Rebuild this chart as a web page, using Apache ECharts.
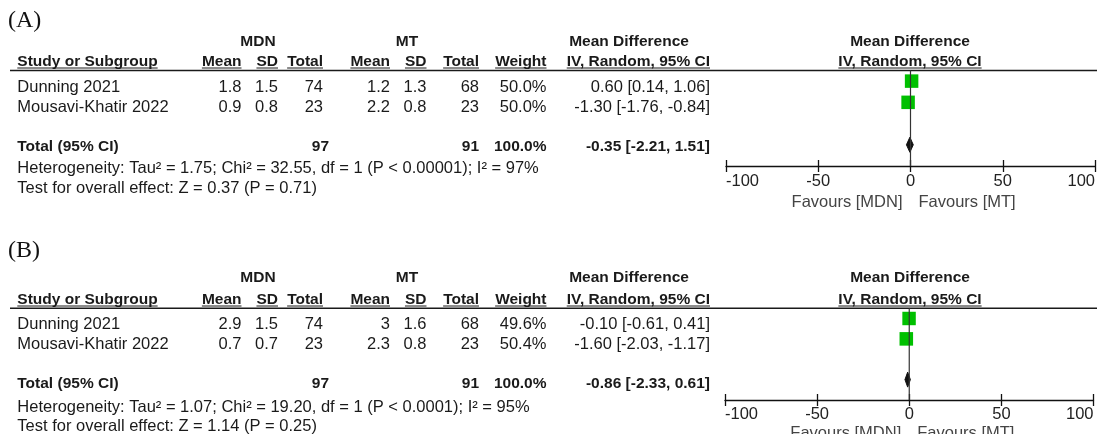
<!DOCTYPE html>
<html>
<head>
<meta charset="utf-8">
<script src="https://cdn.jsdelivr.net/npm/echarts@6/dist/echarts.min.js"></script>
<style>
  html, body { margin: 0; padding: 0; background: #fff; }
  #chart { width: 1097px; height: 434px; }
</style>
</head>
<body>
<div id="chart"></div>
<script>
// ---- Study data ----
const studies = ['Dunning 2021', 'Mousavi-Khatir 2022'];

// Panel A
const mdnMeanA = [1.8, 0.9];
const mdnSdA = [1.5, 0.8];
const mdnNA = [74, 23];
const mtMeanA = [1.2, 2.2];
const mtSdA = [1.3, 0.8];
const mtNA = [68, 23];
const weightA = [50.0, 50.0];
const mdA = [0.60, -1.30];
const loA = [0.14, -1.76];
const hiA = [1.06, -0.84];
const pooledA = [-0.35, -2.21, 1.51];
const totalNA = [97, 91];
const hetA = 'Heterogeneity: Tau\u00b2 = 1.75; Chi\u00b2 = 32.55, df = 1 (P < 0.00001); I\u00b2 = 97%';
const testA = 'Test for overall effect: Z = 0.37 (P = 0.71)';

// Panel B
const mdnMeanB = [2.9, 0.7];
const mdnSdB = [1.5, 0.7];
const mdnNB = [74, 23];
const mtMeanB = [3, 2.3];
const mtSdB = [1.6, 0.8];
const mtNB = [68, 23];
const weightB = [49.6, 50.4];
const mdB = [-0.10, -1.60];
const loB = [-0.61, -2.03];
const hiB = [0.41, -1.17];
const pooledB = [-0.86, -2.33, 0.61];
const totalNB = [97, 91];
const hetB = 'Heterogeneity: Tau\u00b2 = 1.07; Chi\u00b2 = 19.20, df = 1 (P < 0.0001); I\u00b2 = 95%';
const testB = 'Test for overall effect: Z = 1.14 (P = 0.25)';

// Axis ticks
const xTicks = [-100, -50, 0, 50, 100];
const groupLabels = ['MDN', 'MT'];
const headLabels = ['Study or Subgroup', 'Mean', 'SD', 'Total', 'Mean', 'SD', 'Total', 'Weight', 'IV, Random, 95% CI'];
const favourLabels = ['Favours [MDN]', 'Favours [MT]'];

const panels = [
  { tag: '(A)', mdnMean: mdnMeanA, mdnSd: mdnSdA, mdnN: mdnNA, mtMean: mtMeanA, mtSd: mtSdA, mtN: mtNA,
    weight: weightA, md: mdA, lo: loA, hi: hiA, pooled: pooledA, totalN: totalNA, het: hetA, test: testA,
    layout: { tagY: 21, groupY: 41.5, headY: 62, ruleY: 70.5, rowY: [87, 107.5], totalY: 147, hetY: 168.5, testY: 188.5,
              axisY: 166, axisL: 726, axisR: 1095, labelGap: 7, favY: 202 } },
  { tag: '(B)', mdnMean: mdnMeanB, mdnSd: mdnSdB, mdnN: mdnNB, mtMean: mtMeanB, mtSd: mtSdB, mtN: mtNB,
    weight: weightB, md: mdB, lo: loB, hi: hiB, pooled: pooledB, totalN: totalNB, het: hetB, test: testB,
    layout: { tagY: 251, groupY: 278, headY: 300, ruleY: 308.3, rowY: [324, 344], totalY: 384, hetY: 407, testY: 426.5,
              axisY: 400, axisL: 725, axisR: 1093.5, labelGap: 6, favY: 433 } }
];

const W = 1097;
const FONT = '"Liberation Sans", Arial, sans-serif';
const INK = '#1a1a1a';
const REG = '16.5px ' + FONT;
const BOLD = 'bold 15.5px ' + FONT;

// Column anchors of the table (right edges of right-aligned columns)
const COL = { study: 17.3, mdnMean: 241.5, mdnSd: 278, mdnN: 323, mdnTot: 329, mtMean: 390, mtSd: 426.5, mtN: 479,
              weight: 546.5, ci: 710, groupMDN: 258, groupMT: 407, mdHead: 629, plotHead: 910 };
const HEAD_X = [COL.study, COL.mdnMean, COL.mdnSd, COL.mdnN, COL.mtMean, COL.mtSd, COL.mtN, COL.weight, COL.ci];

const measureCtx = document.createElement('canvas').getContext('2d');
function textWidth(str, font) { measureCtx.font = font; return measureCtx.measureText(str).width; }

function txt(str, x, y, font, align, color) {
  return { type: 'text', x: x, y: y, silent: true,
    style: { text: str, font: font, fill: color || INK, align: align || 'left', verticalAlign: 'middle' } };
}
function hline(x1, x2, y, w, color) {
  return { type: 'line', silent: true, shape: { x1: x1, y1: y, x2: x2, y2: y },
    style: { stroke: color || INK, lineWidth: w } };
}
function ciText(m, l, h) { return m.toFixed(2) + ' [' + l.toFixed(2) + ', ' + h.toFixed(2) + ']'; }

// ---- Chart: one grid per panel; rows on a value y axis (row 0,1 = studies, row 3 = pooled) ----
const grids = [], xAxes = [], yAxes = [], series = [];
panels.forEach(function (p, gi) {
  const L = p.layout;
  grids.push({ left: L.axisL, width: L.axisR - L.axisL, top: L.ruleY, height: L.axisY - L.ruleY, outerBoundsMode: 'none', containLabel: false });
  const base = { type: 'value', gridIndex: gi, min: xTicks[0], max: xTicks[xTicks.length - 1], interval: 50,
    position: 'bottom', splitLine: { show: false } };
  xAxes.push(Object.assign({}, base, {
    axisLine: { show: true, onZero: false, lineStyle: { color: '#111', width: 1.3 } },
    axisTick: { show: true, length: 6, lineStyle: { color: '#111', width: 1.3 } },
    axisLabel: { show: true, margin: L.labelGap, fontFamily: FONT, fontSize: 16.5, color: '#222',
      alignMinLabel: 'left', alignMaxLabel: 'right' }
  }));
  xAxes.push(Object.assign({}, base, {
    axisLine: { show: false, onZero: false },
    axisTick: { show: true, inside: true, length: 6, lineStyle: { color: '#111', width: 1.3 } },
    axisLabel: { show: false }
  }));
  yAxes.push({ type: 'value', gridIndex: gi, min: -0.5, max: 4, inverse: true, show: false });

  const studyData = p.md.map(function (m, i) { return [m, i, p.lo[i], p.hi[i], p.weight[i]]; });
  series.push({
    type: 'custom', xAxisIndex: gi * 2, yAxisIndex: gi, z: 2,
    data: studyData,
    renderItem: function (params, api) {
      const c = api.coord([api.value(0), api.value(1)]);
      const l = api.coord([api.value(2), api.value(1)]);
      const h = api.coord([api.value(3), api.value(1)]);
      const s = 13.5 * Math.sqrt(api.value(4) / 50);
      return { type: 'group', children: [
        { type: 'line', shape: { x1: l[0], y1: c[1], x2: h[0], y2: c[1] }, style: { stroke: '#000', lineWidth: 1 } },
        { type: 'rect', shape: { x: c[0] - s / 2, y: c[1] - s / 2, width: s, height: s }, style: { fill: '#00c000' } }
      ] };
    }
  });
  series.push({
    type: 'custom', xAxisIndex: gi * 2, yAxisIndex: gi, z: 2,
    data: [[p.pooled[0], 3, p.pooled[1], p.pooled[2]]],
    renderItem: function (params, api) {
      const c = api.coord([api.value(0), api.value(1)]);
      const l = api.coord([api.value(2), api.value(1)]);
      const h = api.coord([api.value(3), api.value(1)]);
      const hh = 7.5;
      return { type: 'polygon', shape: { points: [[l[0], c[1]], [c[0], c[1] - hh], [h[0], c[1]], [c[0], c[1] + hh]] },
        style: { fill: '#111', stroke: '#111', lineWidth: 1 } };
    }
  });
  // Line of no effect
  series.push({
    type: 'line', xAxisIndex: gi * 2, yAxisIndex: gi, z: 5, symbol: 'none', silent: true,
    data: [[0, -0.5], [0, 4]], lineStyle: { color: '#333', width: 1.2 }
  });
});

const chart = echarts.init(document.getElementById('chart'), null, { renderer: 'canvas' });
chart.setOption({
  animation: false,
  backgroundColor: '#fff',
  grid: grids, xAxis: xAxes, yAxis: yAxes, series: series
});

// ---- Table text and rules ----
const graphics = [];
panels.forEach(function (p, gi) {
  const L = p.layout;
  graphics.push(txt(p.tag, 8, L.tagY, '24px "Liberation Serif", "Times New Roman", serif', 'left', '#111'));

  graphics.push(txt(groupLabels[0], COL.groupMDN, L.groupY, BOLD, 'center'));
  graphics.push(txt(groupLabels[1], COL.groupMT, L.groupY, BOLD, 'center'));
  graphics.push(txt('Mean Difference', COL.mdHead, L.groupY, BOLD, 'center'));
  graphics.push(txt('Mean Difference', COL.plotHead, L.groupY, BOLD, 'center'));

  headLabels.forEach(function (h, k) {
    const align = k === 0 ? 'left' : 'right';
    const x = HEAD_X[k];
    graphics.push(txt(h, x, L.headY, BOLD, align));
    const w = textWidth(h, BOLD);
    const x1 = align === 'left' ? x : x - w;
    graphics.push(hline(x1, x1 + w, L.headY + 6, 1));
  });
  const lastHead = headLabels[headLabels.length - 1];
  graphics.push(txt(lastHead, COL.plotHead, L.headY, BOLD, 'center'));
  const wl = textWidth(lastHead, BOLD);
  graphics.push(hline(COL.plotHead - wl / 2, COL.plotHead + wl / 2, L.headY + 6, 1));

  graphics.push(hline(10, W, L.ruleY, 1.6));

  studies.forEach(function (s, i) {
    const y = L.rowY[i];
    graphics.push(txt(s, COL.study, y, REG, 'left'));
    graphics.push(txt(String(p.mdnMean[i]), COL.mdnMean, y, REG, 'right'));
    graphics.push(txt(String(p.mdnSd[i]), COL.mdnSd, y, REG, 'right'));
    graphics.push(txt(String(p.mdnN[i]), COL.mdnN, y, REG, 'right'));
    graphics.push(txt(String(p.mtMean[i]), COL.mtMean, y, REG, 'right'));
    graphics.push(txt(String(p.mtSd[i]), COL.mtSd, y, REG, 'right'));
    graphics.push(txt(String(p.mtN[i]), COL.mtN, y, REG, 'right'));
    graphics.push(txt(p.weight[i].toFixed(1) + '%', COL.weight, y, REG, 'right'));
    graphics.push(txt(ciText(p.md[i], p.lo[i], p.hi[i]), COL.ci, y, REG, 'right'));
  });

  graphics.push(txt('Total (95% CI)', COL.study, L.totalY, BOLD, 'left'));
  graphics.push(txt(String(p.totalN[0]), COL.mdnTot, L.totalY, BOLD, 'right'));
  graphics.push(txt(String(p.totalN[1]), COL.mtN, L.totalY, BOLD, 'right'));
  const wsum = p.weight.reduce(function (a, b) { return a + b; }, 0);
  graphics.push(txt(wsum.toFixed(1) + '%', COL.weight, L.totalY, BOLD, 'right'));
  graphics.push(txt(ciText(p.pooled[0], p.pooled[1], p.pooled[2]), COL.ci, L.totalY, BOLD, 'right'));
  graphics.push(txt(p.het, COL.study, L.hetY, REG, 'left'));
  graphics.push(txt(p.test, COL.study, L.testY, REG, 'left'));

  // Direction labels either side of the line of no effect
  const zero = chart.convertToPixel({ xAxisIndex: gi * 2 }, 0);
  graphics.push(txt(favourLabels[0], zero - 8, L.favY, REG, 'right', '#444'));
  graphics.push(txt(favourLabels[1], zero + 8, L.favY, REG, 'left', '#444'));
});

chart.setOption({ graphic: graphics });
</script>
</body>
</html>
